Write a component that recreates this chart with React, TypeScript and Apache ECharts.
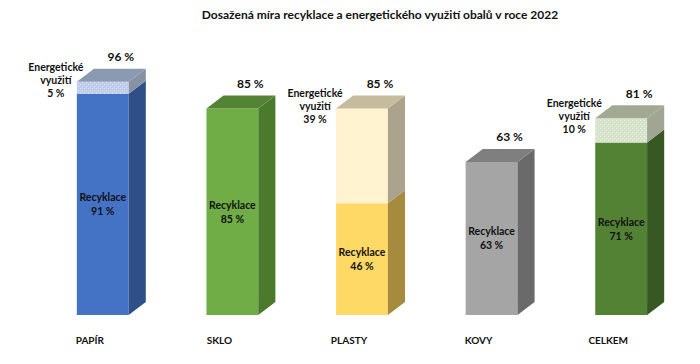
import React, { useEffect, useRef } from "react";
import * as echarts from "echarts";

const categories = ["PAPÍR", "SKLO", "PLASTY", "KOVY", "CELKEM"];
const recycling = [91, 85, 46, 63, 71];
const energy = [5, 0, 39, 0, 10];
const totals = [96, 85, 85, 63, 81];

const titleText = "Dosažená míra recyklace a energetického využití obalů v roce 2022";

const palette = [
  { front: "#4472C4", side: "#2E4F88", top: "#8A9AB3", eFront: "#BCCCEA", eDot: "#E6EDF8", eSide: "#8791A3" },
  { front: "#70AD47", side: "#4C7A2D", top: "#558336", eFront: "#70AD47", eDot: "#70AD47", eSide: "#4C7A2D" },
  { front: "#FFD966", side: "#A68B3E", top: "#C7BB9D", eFront: "#FFF2CC", eDot: "#FFF7E2", eSide: "#ABA38C" },
  { front: "#A5A5A5", side: "#6A6A6A", top: "#7F7F7F", eFront: "#A5A5A5", eDot: "#A5A5A5", eSide: "#6A6A6A" },
  { front: "#548235", side: "#375823", top: "#A2A993", eFront: "#D6E3CB", eDot: "#EEF3E9", eSide: "#A1A694" },
];

function makePattern(base: string, dot: string) {
  const c = document.createElement("canvas");
  c.width = 4;
  c.height = 4;
  const ctx = c.getContext("2d")!;
  ctx.fillStyle = base;
  ctx.fillRect(0, 0, 4, 4);
  ctx.fillStyle = dot;
  ctx.fillRect(0, 0, 1, 1);
  ctx.fillRect(2, 2, 1, 1);
  return { image: c, repeat: "repeat" } as any;
}

export default function App() {
  const ref = useRef<HTMLDivElement>(null);
  useEffect(() => {
    if (!ref.current) return;
    const chart = echarts.init(ref.current, undefined, { renderer: "svg" });
    const font = "Lato, 'Open Sans', sans-serif";
    const data = categories.map((_, i) => [i, recycling[i], energy[i], totals[i]]);
    const patterns = palette.map((p) => makePattern(p.eFront, p.eDot));

    const renderItem = (params: any, api: any) => {
      const i = api.value(0);
      const rec = api.value(1);
      const en = api.value(2);
      const tot = api.value(3);
      const band = api.size([1, 0])[0];
      const W = band * 0.4;
      const dx = band * 0.132;
      const dy = 13;
      const base = api.coord([i, 0]);
      const xc = base[0] + band * 0.1;
      const xl = xc - W / 2;
      const xr = xc + W / 2;
      const y0 = base[1];
      const yr = api.coord([i, rec])[1];
      const yt = api.coord([i, tot])[1];
      const p = palette[i];
      const children: any[] = [];
      children.push({
        type: "rect",
        shape: { x: xl, y: yr, width: W, height: y0 - yr },
        style: { fill: p.front },
      });
      children.push({
        type: "polygon",
        shape: { points: [[xr, y0], [xr + dx, y0 - dy], [xr + dx, yr - dy], [xr, yr]] },
        style: { fill: p.side },
      });
      if (en > 0) {
        children.push({
          type: "rect",
          shape: { x: xl, y: yt, width: W, height: yr - yt },
          style: { fill: patterns[i] },
        });
        children.push({
          type: "polygon",
          shape: { points: [[xr, yr], [xr + dx, yr - dy], [xr + dx, yt - dy], [xr, yt]] },
          style: { fill: p.eSide },
        });
      }
      children.push({
        type: "polygon",
        shape: { points: [[xl, yt], [xl + dx, yt - dy], [xr + dx, yt - dy], [xr, yt]] },
        style: { fill: p.top },
      });
      children.push({
        type: "text",
        x: xc,
        y: (yr + y0) / 2,
        style: {
          text: "Recyklace\n" + rec + " %",
          align: "center",
          verticalAlign: "middle",
          fontFamily: font,
          fontWeight: "bold",
          fontSize: 10.5,
          lineHeight: 14,
          fill: "#111",
        },
      });
      if (en > 0) {
        children.push({
          type: "text",
          x: xl - 21,
          y: yt - 2,
          style: {
            text: "Energetické\nvyužití\n" + en + " %",
            align: "center",
            verticalAlign: "middle",
            fontFamily: font,
            fontWeight: "bold",
            fontSize: 10.5,
            lineHeight: 13,
            fill: "#111",
          },
        });
      }
      children.push({
        type: "text",
        x: xc + 18,
        y: yt - dy - 12,
        style: {
          text: tot + " %",
          align: "center",
          verticalAlign: "middle",
          fontFamily: font,
          fontWeight: "bold",
          fontSize: 12,
          fill: "#111",
        },
      });
      return { type: "group", children };
    };

    chart.setOption({
      animation: false,
      backgroundColor: "#ffffff",
      grid: { left: 25, right: 27, top: 72, bottom: 49 },
      xAxis: {
        type: "category",
        data: categories,
        axisLine: { show: false },
        axisTick: { show: false },
        axisLabel: {
          margin: 20,
          fontFamily: font,
          fontWeight: "bold",
          fontSize: 10,
          color: "#111",
        },
      },
      yAxis: {
        type: "value",
        min: 0,
        max: 100,
        show: false,
        splitLine: { show: false },
      },
      graphic: [
        {
          type: "text",
          x: 380,
          y: 14,
          style: {
            text: titleText,
            align: "center",
            verticalAlign: "middle",
            fontFamily: font,
            fontWeight: "bold",
            fontSize: 12,
            fill: "#111",
          },
        },
      ],
      series: [
        {
          type: "custom",
          renderItem,
          data,
          encode: { x: 0, y: 3 },
          clip: false,
        },
      ],
    });
    return () => chart.dispose();
  }, []);
  return (
    <div
      ref={ref}
      style={{ position: "fixed", left: 0, top: 0, width: 700, height: 364 }}
    />
  );
}
